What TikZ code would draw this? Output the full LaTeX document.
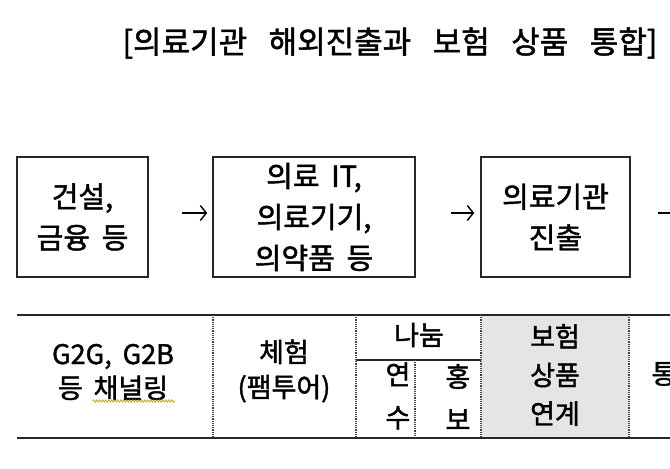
\documentclass[tikz,border=0pt]{standalone}
\usepackage{fontspec}
\setmainfont{Noto Sans CJK KR}[WordSpace=1.8,FakeBold=1.5]
\usetikzlibrary{arrows.meta,decorations.pathmorphing}
\begin{document}
\begin{tikzpicture}[x=1pt,y=-1pt,
  box/.style={draw=black!85,line width=1.6pt,inner sep=0pt,minimum height=120pt,align=center,
    font=\fontsize{29}{41}\selectfont},
  arr/.style={line width=1.4pt,-{Straight Barb[length=6pt,width=15pt,line width=1.4pt]}},
  rule/.style={line width=1.8pt,draw=black!85},
  thinrule/.style={line width=1.5pt,draw=black!85},
  vdot/.style={densely dotted,line width=1.2pt,draw=black!75},
  cell/.style={align=center,inner sep=0pt,font=\fontsize{27}{38}\selectfont},
  ttl/.style={inner sep=0pt,font=\fontsize{31}{36}\selectfont}]
\useasboundingbox (0,0) rectangle (670,469);
% title
\node[ttl] (title) at (390,43) {[의료기관\hspace{9pt} 해외진출과\hspace{9pt} 보험\hspace{9pt} 상품\hspace{9pt} 통합]};
% top flow
\node[box,minimum width=131pt] (b1) at (82.5,217) {건설,\\금융 등};
\node[box,minimum width=202pt] (b2) at (314,217) {의료 IT,\\의료기기,\\의약품 등};
\node[box,minimum width=149pt] (b3) at (555.5,217) {의료기관\\진출};
\coordinate (b4) at (700,217);
\draw[arr,shorten <=33pt,shorten >=5pt] ([yshift=4pt]b1.east) -- ([yshift=4pt]b2.west);
\draw[arr,shorten <=35pt,shorten >=6pt] ([yshift=4pt]b2.east) -- ([yshift=4pt]b3.west);
\draw[arr,shorten <=27pt] ([yshift=4pt]b3.east) -- ([yshift=4pt]b4);
% table
\coordinate (tl) at (17,315);
\coordinate (tr) at (680,315);
\coordinate (bl) at (17,438);
\coordinate (br) at (680,438);
\fill[black!10] (481,315) rectangle (629,438);
\draw[rule] (tl) -- (tr);
\draw[rule] (bl) -- (br);
\coordinate (m1) at (356,360);
\coordinate (m2) at (481,360);
\draw[thinrule] (m1) -- (m2);
\coordinate (v1t) at (213,315); \coordinate (v1b) at (213,438);
\coordinate (v2t) at (356,315); \coordinate (v2b) at (356,438);
\coordinate (v3t) at (415,360); \coordinate (v3b) at (415,438);
\coordinate (v4t) at (481,315); \coordinate (v4b) at (481,438);
\coordinate (v5t) at (629,315); \coordinate (v5b) at (629,438);
\draw[vdot] (v1t) -- (v1b);
\draw[vdot] (v2t) -- (v2b);
\draw[vdot] (v3t) -- (v3b);
\draw[vdot] (v4t) -- (v4b);
\draw[vdot] (v5t) -- (v5b);
\node[cell,font=\fontsize{27}{34}\selectfont] (c1) at (113,372) {G2G, G2B\\등 채널링};
\coordinate (sq1) at (93,401); \coordinate (sq2) at (175,401);
\draw[olive!70!yellow,line width=0.6pt,decorate,decoration={zigzag,amplitude=1.2pt,segment length=3pt}] (sq1) -- (sq2);
\node[cell,font=\fontsize{27}{35}\selectfont] (c2) at (284,371) {체험\\(팸투어)};
\node[cell] (c3) at (419,335) {나눔};
\node[cell,font=\fontsize{27}{43}\selectfont] (c3a) at (398,396) {연\\수};
\node[cell,font=\fontsize{27}{43}\selectfont] (c3b) at (458,397) {홍\\보};
\node[cell,font=\fontsize{27}{38.5}\selectfont] (c4) at (555,375) {보험\\상품\\연계};
\node[cell] (c5) at (664,374) {통};
\end{tikzpicture}
\end{document}
